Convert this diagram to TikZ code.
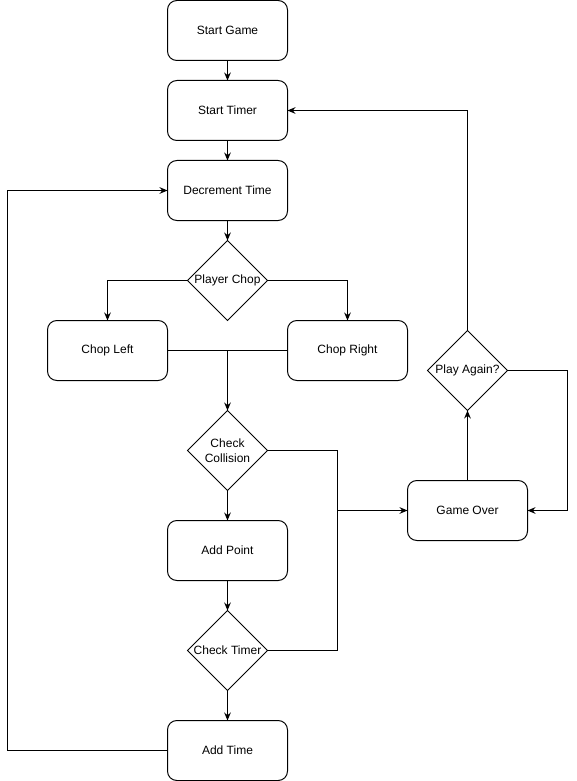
\documentclass[tikz,border=0pt]{standalone}
\usepackage{fontspec}
\setmainfont{Liberation Sans}
\usetikzlibrary{positioning}
\usetikzlibrary{shapes.geometric}
\usetikzlibrary{arrows.meta}

\begin{document}
\begin{tikzpicture}[x=0.75pt, y=-0.75pt,
		line width=0.75pt,
		every node/.style={font=\fontsize{9}{11}\selectfont},
		process/.style={draw, rounded corners=7pt, minimum width=90pt,
			minimum height=45pt, inner sep=0pt, outer sep=0pt},
		decision/.style={draw, diamond, minimum width=60pt,
			minimum height=60pt, inner sep=0pt, outer sep=0pt},
		arrow/.style={-{Stealth[length=6pt, width=5pt, inset=2pt]}}]
		\useasboundingbox (0,0) rectangle (576,781);
		\node [process] at (227.5,30.5) (start) {Start Game};
		\node [process, below=15pt of start] (timer) {Start Timer};
		\node [process, below=15pt of timer] (decr) {Decrement Time};
		\node [decision, below=15pt of decr, label=center:Player Chop] (chop) {};
		\node [process] at (107.5,350.5) (left) {Chop Left};
		\node [process] at (347.5,350.5) (right) {Chop Right};
		\node [decision, label={[align=center]center:Check\\Collision}] at (227.5,450.5) (collide) {};
		\node [process, below=22.5pt of collide] (point) {Add Point};
		\node [decision, below=22.5pt of point, label=center:Check Timer] (check) {};
		\node [process, below=22.5pt of check] (addtime) {Add Time};
		\node [process] at (467.5,510.5) (over) {Game Over};
		\node [decision, above=52.5pt of over, label=center:Play Again?] (again) {};
		
		\coordinate (merge) at (left.east -| chop.south);
		\coordinate [left=52.5pt of over.west] (join);
		
		\draw [arrow] (start) -- (timer);
		\draw [arrow] (timer) -- (decr);
		\draw [arrow] (decr) -- (chop);
		\draw [arrow] (chop.west) -| (left.north);
		\draw [arrow] (chop.east) -| (right.north);
		\draw (left.east) -- (right.west);
		\draw [arrow] (merge) -- (collide.north);
		\draw [arrow] (collide) -- (point);
		\draw [arrow] (point) -- (check);
		\draw [arrow] (check) -- (addtime);
		\draw (collide.east) -| (join);
		\draw (check.east) -| (join);
		\draw [arrow] (join) -- (over.west);
		\draw [arrow] (addtime.west) -- ++(-120pt,0) |- (decr.west);
		\draw [arrow] (over) -- (again);
		\draw [arrow] (again.north) |- (timer.east);
		\draw [arrow] (again.east) -- ++(45pt,0) |- (over.east);
\end{tikzpicture}
\end{document}
